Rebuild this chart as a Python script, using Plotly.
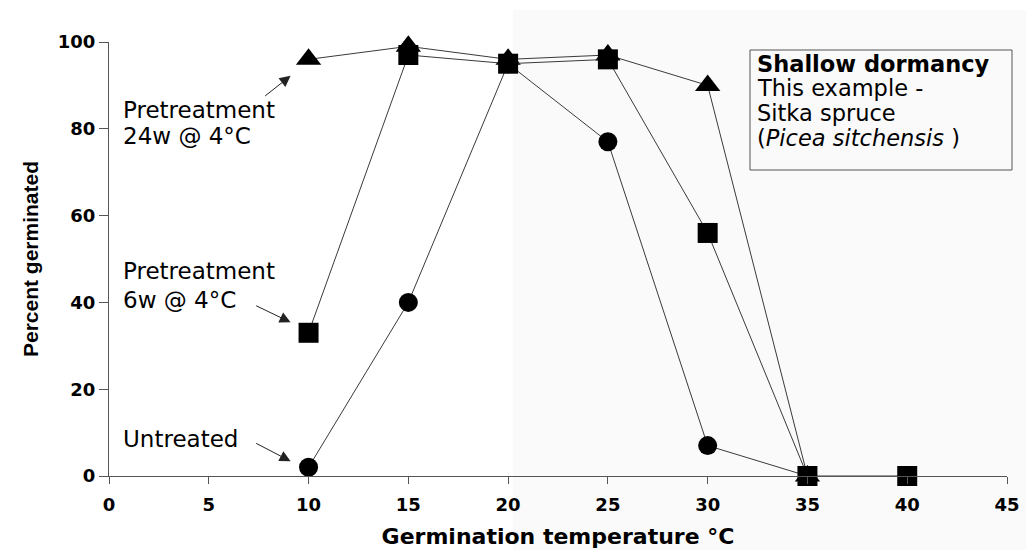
import plotly.graph_objects as go

# ---- data ----
temps = [10, 15, 20, 25, 30, 35]
temps_6w = [10, 15, 20, 25, 30, 35, 40]
untreated = [2, 40, 95, 77, 7, 0]
pre_6w = [33, 97, 95, 96, 56, 0, 0]
pre_24w = [96, 99, 96, 97, 90, 0]

x_ticks = [0, 5, 10, 15, 20, 25, 30, 35, 40, 45]
y_ticks = [0, 20, 40, 60, 80, 100]

LINE = "#3a3a3a"
W, H = 1026, 550
L, R, T, B = 109, 19, 42, 74
PW, PH = W - L - R, H - T - B


def px(xp):
    return (xp - L) / PW


def py(yp):
    return (H - B - yp) / PH


fig = go.Figure()

fig.add_trace(go.Scatter(
    x=temps, y=untreated, mode="lines+markers", name="Untreated",
    line=dict(color=LINE, width=1),
    marker=dict(symbol="circle", size=19, color="black"),
    cliponaxis=False))
fig.add_trace(go.Scatter(
    x=temps, y=pre_24w, mode="lines+markers", name="Pretreatment 24w",
    line=dict(color=LINE, width=1),
    marker=dict(symbol="triangle-up", size=22, color="black"),
    cliponaxis=False))
fig.add_trace(go.Scatter(
    x=temps_6w, y=pre_6w, mode="lines+markers", name="Pretreatment 6w",
    line=dict(color=LINE, width=1),
    marker=dict(symbol="square", size=20, color="black"),
    cliponaxis=False))

TXT = dict(family="DejaVu Sans, Arial, sans-serif", size=23, color="black")
ann = []


def label(xp, yp, text, bold=False, size=23):
    f = dict(TXT)
    f["size"] = size
    ann.append(dict(
        x=px(xp), y=py(yp), xref="paper", yref="paper",
        text=("<b>%s</b>" % text) if bold else text,
        showarrow=False, xanchor="left", yanchor="middle",
        font=f))


# left annotations
label(121, 110, "Pretreatment")
label(121, 136, "24w @ 4°C")
label(121, 271, "Pretreatment")
label(121, 300, "6w @ 4°C")
label(121, 439, "Untreated")

# arrows (tail -> head) in data coords
arrows = [((7.75, 87.3), (9.1, 92.2)),
          ((7.3, 39.4), (9.1, 35.4)),
          ((7.3, 7.7), (9.1, 3.4))]
for (tx, ty), (hx, hy) in arrows:
    ann.append(dict(x=hx, y=hy, ax=tx, ay=ty, xref="x", yref="y",
                    axref="x", ayref="y", text="", showarrow=True,
                    arrowhead=2, arrowsize=2.2, arrowwidth=1,
                    arrowcolor="#222"))

# box text
label(755, 64, "Shallow dormancy", bold=True, size=22.5)
label(755, 88, "This example -", size=22.5)
label(755, 113, "Sitka spruce", size=22.5)
label(755, 138, "(<i>Picea sitchensis</i> )", size=22.5)

fig.update_layout(
    width=W, height=H,
    margin=dict(l=L, r=R, t=T, b=B, autoexpand=False),
    paper_bgcolor="white", plot_bgcolor="rgba(0,0,0,0)",
    showlegend=False,
    annotations=ann,
    shapes=[
        dict(type="rect", xref="paper", yref="paper", layer="below",
             x0=px(513), x1=px(1030), y0=py(555), y1=py(10),
             fillcolor="#fafafa", line=dict(width=0)),
        dict(type="rect", xref="paper", yref="paper",
             x0=px(750), x1=px(1012), y0=py(170), y1=py(50),
             fillcolor="rgba(0,0,0,0)", line=dict(color="#555", width=1)),
    ],
    xaxis=dict(
        range=[0, 45], tickvals=x_ticks, showgrid=False, zeroline=False,
        automargin=False,
        showline=True, linecolor="#555", linewidth=1,
        ticks="outside", ticklen=7, tickcolor="#555",
        tickfont=dict(family="DejaVu Sans, Arial", size=18, color="black",
                      weight="bold"),
        ticklabelstandoff=5,
        title=dict(text="<b>Germination temperature °C</b>",
                   font=dict(family="DejaVu Sans, Arial", size=22,
                             color="black"), standoff=15),
    ),
    yaxis=dict(
        range=[0, 100], tickvals=y_ticks, showgrid=False, zeroline=False,
        automargin=False,
        showline=True, linecolor="#555", linewidth=1,
        ticks="outside", ticklen=9, tickcolor="#555",
        tickfont=dict(family="DejaVu Sans, Arial", size=18, color="black",
                      weight="bold"),
        title=dict(text="Percent germinated",
                   font=dict(family="Liberation Sans, Arial", size=21,
                             color="black", weight="bold"), standoff=13),
    ),
)

fig.write_html(
    "out.html",
    config={"displayModeBar": False},
    post_script="document.body.style.margin='0px';"
                "document.body.style.overflow='hidden';",
)
